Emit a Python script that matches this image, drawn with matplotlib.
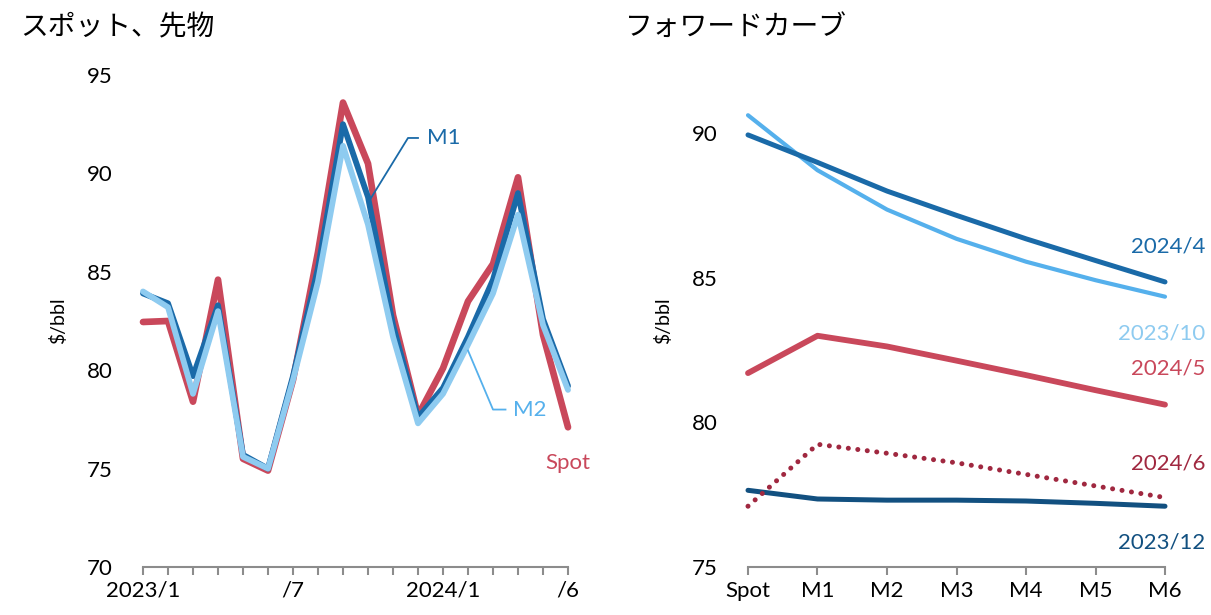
import numpy as np
import matplotlib.pyplot as plt

plt.rcParams['font.family'] = ['Lato', 'Noto Sans CJK JP', 'DejaVu Sans']

# left panel: monthly, 2023/1 .. 2024/6
months = ["2023/1", "", "", "", "", "", "/7", "", "", "", "", "",
          "2024/1", "", "", "", "", "/6"]
spot = [82.45, 82.5, 78.4, 84.6, 75.5, 74.9, 79.5, 86.0, 93.6, 90.5,
        82.8, 77.7, 80.1, 83.5, 85.4, 89.8, 81.8, 77.1]
m1 = [83.9, 83.4, 79.7, 83.3, 75.7, 75.0, 79.7, 85.2, 92.5, 88.8,
      82.3, 77.6, 79.1, 81.7, 84.6, 89.0, 82.6, 79.2]
m2 = [84.0, 83.2, 78.8, 83.0, 75.6, 75.0, 79.5, 84.5, 91.4, 87.4,
      81.7, 77.3, 78.8, 81.3, 83.9, 87.9, 82.3, 79.0]

# right panel: forward curves
tenors = ["Spot", "M1", "M2", "M3", "M4", "M5", "M6"]
fc_2024_4 = [89.93, 88.98, 87.99, 87.15, 86.34, 85.59, 84.85]
fc_2023_10 = [90.61, 88.71, 87.35, 86.34, 85.55, 84.91, 84.34]
fc_2024_5 = [81.7, 82.99, 82.62, 82.13, 81.63, 81.11, 80.61]
fc_2024_6 = [77.1, 79.24, 78.93, 78.6, 78.2, 77.8, 77.4]
fc_2023_12 = [77.65, 77.35, 77.31, 77.31, 77.28, 77.2, 77.1]

RED = "#c9485b"
BLUE = "#1a6aa8"
LIGHT = "#8ecbf0"
SKY = "#55b0ec"
NAVY = "#125080"
DRED = "#a02840"
GRAY = "#8c8c8c"

fig = plt.figure(figsize=(12.11, 6.15), dpi=100)
ax1 = fig.add_axes([143/1211, 1-567/615, (568-143)/1211, 492/615])
ax2 = fig.add_axes([748/1211, 1-567/615, (1165-748)/1211, 492/615])

def style(ax):
    for s in ["top", "right", "left"]:
        ax.spines[s].set_visible(False)
    ax.spines["bottom"].set_color(GRAY)
    ax.spines["bottom"].set_linewidth(1.5)
    ax.tick_params(axis="x", color=GRAY, width=1.5, length=6, labelsize=16, pad=4)
    ax.tick_params(axis="y", length=0, labelsize=16, pad=22)
    ax.set_ylabel("$/bbl", fontsize=14, labelpad=14)

x = np.arange(len(months))
kw = dict(solid_joinstyle="round", solid_capstyle="round", clip_on=False)
ax1.plot(x, spot, color=RED, lw=4.8, **kw)
ax1.plot(x, m1, color=BLUE, lw=4.2, **kw)
ax1.plot(x, m2, color=LIGHT, lw=4.2, **kw)
ax1.set_xlim(0, 17)
ax1.set_ylim(70, 95)
ax1.set_yticks([70, 75, 80, 85, 90, 95])
ax1.set_xticks(x)
ax1.set_xticklabels(months)
style(ax1)

# leader labels
ax1.plot([9.0, 10.6, 11.0], [88.5, 91.8, 91.8], color=BLUE, lw=1.3, clip_on=False)
ax1.text(11.35, 91.8, "M1", color=BLUE, fontsize=16, va="center")
ax1.plot([13.0, 14.0, 14.5], [81.0, 78.0, 78.0], color=SKY, lw=1.3, clip_on=False)
ax1.text(14.8, 78.0, "M2", color=SKY, fontsize=16, va="center")
ax1.text(17.0, 75.3, "Spot", color=RED, fontsize=16, ha="center", va="center")

t = np.arange(len(tenors))
kw2 = dict(solid_capstyle="round", clip_on=False)
ax2.plot(t, fc_2023_12, color=NAVY, lw=3.6, **kw2)
ax2.plot(t, fc_2024_6, color=DRED, lw=3.6, ls=(0, (0.01, 1.9)),
         dash_capstyle="round", clip_on=False)
ax2.plot(t, fc_2024_5, color=RED, lw=4.2, **kw2)
ax2.plot(t, fc_2023_10, color=SKY, lw=3.0, **kw2)
ax2.plot(t, fc_2024_4, color=BLUE, lw=3.6, **kw2)
ax2.set_xlim(0, 6)
ax2.set_ylim(75, 92)
ax2.set_yticks([75, 80, 85, 90])
ax2.set_xticks(t)
ax2.set_xticklabels(tenors)
style(ax2)

lx = 6.58
ax2.text(lx, 86.08, "2024/4", color=BLUE, fontsize=16, ha="right", va="center", clip_on=False)
ax2.text(lx, 83.08, "2023/10", color=LIGHT, fontsize=16, ha="right", va="center", clip_on=False)
ax2.text(lx, 81.85, "2024/5", color=RED, fontsize=16, ha="right", va="center", clip_on=False)
ax2.text(lx, 78.58, "2024/6", color=DRED, fontsize=16, ha="right", va="center", clip_on=False)
ax2.text(lx, 75.83, "2023/12", color=NAVY, fontsize=16, ha="right", va="center", clip_on=False)

fig.text(20/1211, 1-27/615, "スポット、先物", fontsize=20, va="center", ha="left")
fig.text(625/1211, 1-27/615, "フォワードカーブ", fontsize=20, va="center", ha="left")

fig.savefig("out.png", dpi=100)
